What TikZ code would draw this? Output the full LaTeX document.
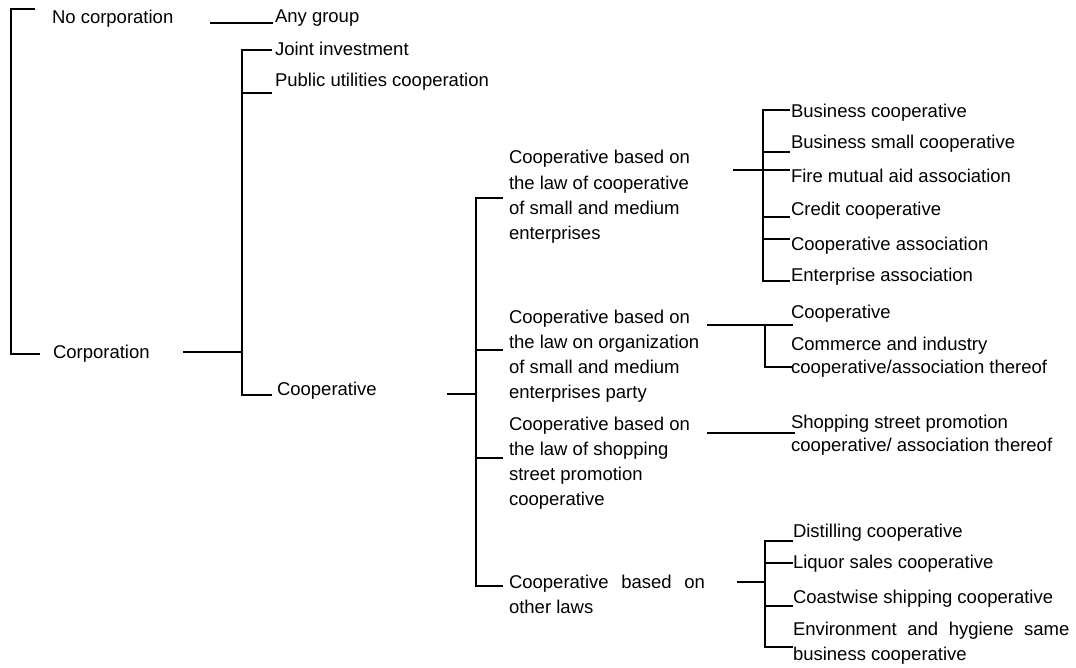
\documentclass[tikz,border=0pt]{standalone}
\usepackage{fontspec}
\setmainfont{Liberation Sans}
% fixed first-line height so that every label hangs from its top edge alike
\newcommand\lnstrut{\rule{0pt}{9pt}}
\begin{document}
\begin{tikzpicture}[x=0.5pt,y=-0.5pt,
  lbl/.style={anchor=north west,inner sep=0pt,outer sep=0pt,align=left,
              font=\fontsize{9.25}{12.6}\selectfont},
  lbltwo/.style={lbl,font=\fontsize{9.25}{11.8}\selectfont},
  link/.style={line width=1pt,line join=miter}]
\useasboundingbox (0,0) rectangle (1076,668);

% ---------- labels ----------
\node[lbl] (nocorp)    at (52,6)    {\lnstrut No corporation};
\node[lbl] (corp)      at (53,340)  {\lnstrut Corporation};
\node[lbl] (anygroup)  at (275,5)   {\lnstrut Any group};
\node[lbl] (joint)     at (275,38)  {\lnstrut Joint investment};
\node[lbl] (public)    at (275,69)  {\lnstrut Public utilities cooperation};
\node[lbl] (coop)      at (277,377) {\lnstrut Cooperative};

\node[lbl] (lawA) at (509,146) {\lnstrut Cooperative based on\\the law of cooperative\\of small and medium\\enterprises};
\node[lbl] (lawB) at (509,305) {\lnstrut Cooperative based on\\the law on organization\\of small and medium\\enterprises party};
\node[lbl] (lawC) at (509,412) {\lnstrut Cooperative based on\\the law of shopping\\street promotion\\cooperative};
\node[lbl] (lawD) at (509,570) {\lnstrut Cooperative\hspace{0.68em}based\hspace{0.68em}on\\other laws};

\node[lbl] (bizcoop)   at (791,100) {\lnstrut Business cooperative};
\node[lbl] (bizsmall)  at (791,131) {\lnstrut Business small cooperative};
\node[lbl] (fire)      at (791,165) {\lnstrut Fire mutual aid association};
\node[lbl] (credit)    at (791,198) {\lnstrut Credit cooperative};
\node[lbl] (coopassoc) at (791,232) {\lnstrut Cooperative association};
\node[lbl] (entassoc)  at (791,264) {\lnstrut Enterprise association};

\node[lbl]    (coopB)    at (791,300) {\lnstrut Cooperative};
\node[lbltwo] (commerce) at (791,332) {\lnstrut Commerce and industry\\cooperative/association thereof};
\node[lbltwo] (shopping) at (791,410) {\lnstrut Shopping street promotion\\cooperative/ association thereof};

\node[lbl] (distill)     at (793,519) {\lnstrut Distilling cooperative};
\node[lbl] (liquor)      at (793,550) {\lnstrut Liquor sales cooperative};
\node[lbl] (coastwise)   at (793,585) {\lnstrut Coastwise shipping cooperative};
\node[lbl] (environment) at (793,617) {\lnstrut Environment\hspace{0.57em}and\hspace{0.57em}hygiene\hspace{0.57em}same\\business cooperative};

% ---------- junction points ----------
% root bracket
\coordinate (rTop) at (11,9);    \coordinate (rTopEnd) at (35,9);
\coordinate (rBot) at (11,354);  \coordinate (rBotEnd) at (40,354);
% corporation / no corporation links
\coordinate (ncOut) at (210,23); \coordinate (ncIn) at (273,23);
\coordinate (cOut)  at (183,352); \coordinate (cIn) at (242,352);
% corporation bracket
\coordinate (bTop) at (242,50);  \coordinate (bTopEnd) at (272,50);
\coordinate (bMid) at (242,93);  \coordinate (bMidEnd) at (272,93);
\coordinate (bBot) at (242,395); \coordinate (bBotEnd) at (272,395);
% cooperative bracket
\coordinate (kOut) at (447,394); \coordinate (kIn) at (476,394);
\coordinate (kTop) at (476,198); \coordinate (kTopEnd) at (503,198);
\coordinate (kB)   at (476,350); \coordinate (kBEnd)   at (503,350);
\coordinate (kC)   at (476,458); \coordinate (kCEnd)   at (503,458);
\coordinate (kBot) at (476,586); \coordinate (kBotEnd) at (503,586);
% law of cooperative bracket
\coordinate (aOut) at (733,170); \coordinate (aIn) at (763,170);
\coordinate (aTop) at (763,110); \coordinate (aTopEnd) at (790,110);
\coordinate (a2)   at (763,152); \coordinate (a2End)   at (790,152);
\coordinate (a3End) at (790,170);
\coordinate (a4)   at (763,217); \coordinate (a4End)   at (790,217);
\coordinate (a5)   at (763,239); \coordinate (a5End)   at (790,239);
\coordinate (aBot) at (763,281); \coordinate (aBotEnd) at (790,281);
% law on organization links
\coordinate (oOut) at (707,325); \coordinate (oIn) at (793,325);
\coordinate (oJ)   at (765,325); \coordinate (oBot) at (765,367);
\coordinate (oBotEnd) at (793,367);
% shopping street link
\coordinate (sOut) at (707,433); \coordinate (sIn) at (795,433);
% other laws bracket
\coordinate (dOut) at (737,582); \coordinate (dIn) at (765,582);
\coordinate (dTop) at (765,541); \coordinate (dTopEnd) at (793,541);
\coordinate (d2)   at (765,563); \coordinate (d2End)   at (793,563);
\coordinate (d3)   at (765,606); \coordinate (d3End)   at (793,606);
\coordinate (dBot) at (765,647); \coordinate (dBotEnd) at (793,647);

% ---------- connectors ----------
\draw[link] (rTopEnd) -- (rTop) -- (rBot) -- (rBotEnd);
\draw[link] (ncOut) -- (ncIn);
\draw[link] (cOut) -- (cIn);
\draw[link] (bTopEnd) -- (bTop) -- (bBot) -- (bBotEnd);
\draw[link] (bMid) -- (bMidEnd);
\draw[link] (kOut) -- (kIn);
\draw[link] (kTopEnd) -- (kTop) -- (kBot) -- (kBotEnd);
\draw[link] (kB) -- (kBEnd);
\draw[link] (kC) -- (kCEnd);
\draw[link] (aOut) -- (aIn) -- (a3End);
\draw[link] (aTopEnd) -- (aTop) -- (aBot) -- (aBotEnd);
\draw[link] (a2) -- (a2End);
\draw[link] (a4) -- (a4End);
\draw[link] (a5) -- (a5End);
\draw[link] (oOut) -- (oIn);
\draw[link] (oJ) -- (oBot) -- (oBotEnd);
\draw[link] (sOut) -- (sIn);
\draw[link] (dOut) -- (dIn);
\draw[link] (dTopEnd) -- (dTop) -- (dBot) -- (dBotEnd);
\draw[link] (d2) -- (d2End);
\draw[link] (d3) -- (d3End);
\end{tikzpicture}
\end{document}
